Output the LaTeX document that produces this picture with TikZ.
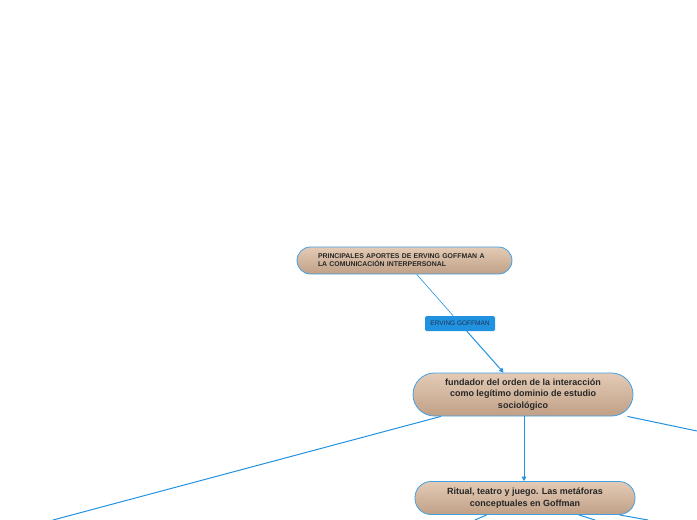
\documentclass[tikz,border=0pt]{standalone}
\usepackage{fontspec}
\setmainfont{Liberation Sans}
\usepackage{tikz}
\usetikzlibrary{arrows.meta,positioning,calc}
\definecolor{kantenblau}{RGB}{33,146,224}
\definecolor{randblau}{RGB}{64,160,228}
\definecolor{hautoben}{RGB}{228,203,181}
\definecolor{hautunten}{RGB}{192,160,135}
\definecolor{etiketttext}{RGB}{30,52,80}
\tikzset{
  thema/.style={rectangle, draw=randblau, line width=0.8pt, top color=hautoben, bottom color=hautunten, align=center, font=\bfseries\fontsize{9}{11.8}\selectfont, text=black!85, minimum width=220pt, inner sep=0pt},
  titelbox/.style={thema, rounded corners=13.5pt, minimum width=215pt, minimum height=27pt, align=left, text width=173pt, font=\bfseries\fontsize{6.9}{8}\selectfont},
  etikett/.style={rectangle, fill=kantenblau, rounded corners=1.5pt, minimum width=70pt, minimum height=15pt, inner sep=0pt, font=\fontsize{6.5}{7}\selectfont, text=etiketttext},
  kante/.style={draw=kantenblau, line width=1pt},
  pfeil/.style={kante, -{Triangle[length=4.5pt,width=4.5pt]}}
}

\begin{document}
\begin{tikzpicture}[x=1pt, y=-1pt]
\useasboundingbox (0,0) rectangle (697,520);

\node[titelbox] (titel) at (404.5,260.5) {PRINCIPALES APORTES DE ERVING GOFFMAN A\\LA COMUNICACI\'ON INTERPERSONAL};
\node[etikett] (goffman) at (460,323.5) {ERVING GOFFMAN};
\node[thema, minimum height=43pt, rounded corners=21.5pt] (fundador) at (523,394.5) {fundador del orden de la interacci\'on\\como leg\'itimo dominio de estudio\\sociol\'ogico};
\node[thema, minimum height=33pt, rounded corners=16pt] (ritual) at (525,498) {Ritual, teatro y juego. Las met\'aforas\\conceptuales en Goffman};

\coordinate (links) at (53,520);
\coordinate (rechts) at (697,431);
\coordinate (unten1) at (475,520);
\coordinate (unten2) at (595,520);
\coordinate (unten3) at (648,520);

\draw[kante, line width=0.6pt] (titel) -- (goffman);
\draw[pfeil] (goffman) -- (fundador);
\draw[pfeil] (fundador.south -| 524,0) -- (ritual.north -| 524,0);
\draw[kante] (fundador) -- (links);
\draw[kante] (fundador) -- (rechts);
\foreach \z in {unten1,unten2,unten3}{\draw[kante] (ritual) -- (\z);}

\end{tikzpicture}
\end{document}
